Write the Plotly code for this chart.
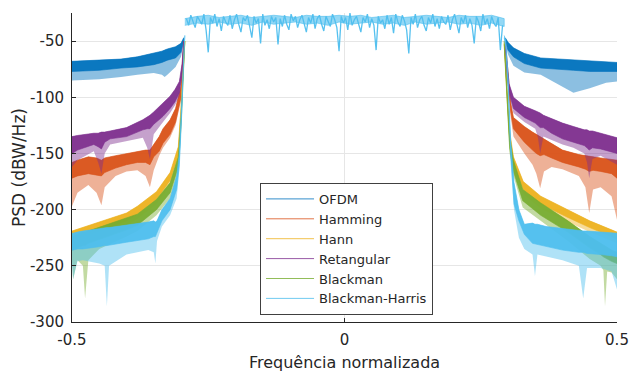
import numpy as np
import plotly.graph_objects as go

# ---------------- data ----------------
names = ["OFDM", "Hamming", "Hann", "Retangular", "Blackman", "Blackman-Harris"]
colors = ["#0072BD", "#D95319", "#EDB120", "#7E2F8E", "#77AC30", "#4DBEEE"]

# OFDM (no window)
ofdm_xl = [-0.5, -0.45, -0.41, -0.38, -0.35, -0.335, -0.33, -0.325, -0.31, -0.30, -0.295]
ofdm_tl = [-68, -67, -66, -64, -61, -59, -58, -57, -55, -52, -47]
ofdm_cl = [-77, -76, -74, -73, -71, -69, -68, -67, -65, -60, -50]
ofdm_ll = [-85, -84, -82, -80, -78.5, -80, -82, -80, -73, -64, -52]
ofdm_xr = [0.295, 0.30, 0.31, 0.33, 0.36, 0.39, 0.42, 0.45, 0.48, 0.5]
ofdm_tr = [-47, -51, -56, -61, -65, -66, -67, -68, -68.5, -69]
ofdm_cr = [-50, -58, -64, -70, -74, -75, -76, -77, -77, -77]
ofdm_lr = [-52, -62, -72, -78, -80, -88, -96, -92, -87, -86]

# Hamming
ham_xl = [-0.5, -0.49, -0.47, -0.455, -0.446, -0.44, -0.42, -0.40, -0.38, -0.365, -0.357, -0.35, -0.34, -0.333, -0.32, -0.31, -0.30, -0.295]
ham_tl = [-158, -156, -153, -154, -156, -154, -152, -150, -148, -147, -147, -142, -135, -128, -120, -110, -90, -50]
ham_cl = [-172, -170, -168, -169, -170, -167, -163, -160, -158, -158, -160, -153, -148, -141, -133, -122, -100, -55]
ham_ll = [-197, -185, -178, -185, -196, -180, -170, -166, -165, -170, -180, -165, -152, -145, -136, -125, -103, -57]
ham_xr = [0.295, 0.30, 0.305, 0.31, 0.33, 0.345, 0.352, 0.359, 0.366, 0.38, 0.40, 0.43, 0.442, 0.449, 0.456, 0.47, 0.49, 0.5]
ham_tr = [-50, -80, -105, -118, -126, -131, -133, -135, -137, -141, -147, -151, -152, -153, -153, -154, -155, -156]
ham_cr = [-55, -88, -113, -128, -140, -147, -150, -152, -151, -154, -158, -162, -164, -166, -165, -166, -168, -172]
ham_lr = [-57, -92, -118, -135, -150, -160, -168, -181, -166, -162, -164, -170, -180, -203, -182, -180, -188, -209]

# Hann
hann_xl = [-0.5, -0.45, -0.40, -0.38, -0.345, -0.32, -0.305, -0.30, -0.296, -0.293]
hann_tl = [-219, -211, -203, -197, -184, -167, -144, -110, -75, -50]
hann_cl = [-227, -219, -210, -204, -191, -174, -152, -118, -80, -52]
hann_ll = [-231, -223, -214, -208, -195, -178, -156, -122, -83, -54]
hann_xr = [0.293, 0.298, 0.303, 0.31, 0.328, 0.36, 0.41, 0.45, 0.5]
hann_tr = [-50, -90, -130, -153, -175, -188, -200, -210, -220]
hann_cr = [-52, -97, -138, -160, -182, -195, -207, -216, -226]
hann_lr = [-54, -100, -142, -164, -186, -199, -211, -220, -230]

# Retangular
ret_xl = [-0.5, -0.49, -0.46, -0.452, -0.446, -0.44, -0.43, -0.40, -0.37, -0.362, -0.357, -0.35, -0.333, -0.32, -0.311, -0.303, -0.298, -0.295]
ret_tl = [-135, -134, -132, -132, -131, -131, -130, -127, -120, -118, -116, -113, -105, -99, -93, -86, -70, -50]
ret_cl = [-150, -147, -142, -144, -146, -140, -137, -135, -129, -128, -128, -124, -117, -110, -104, -96, -78, -53]
ret_ll = [-162, -156, -148, -158, -168, -150, -142, -139, -136, -145, -155, -133, -122, -114, -107, -99, -80, -55]
ret_xr = [0.295, 0.298, 0.302, 0.31, 0.33, 0.35, 0.355, 0.359, 0.365, 0.38, 0.40, 0.42, 0.44, 0.445, 0.449, 0.455, 0.47, 0.5]
ret_tr = [-50, -70, -88, -100, -108, -112, -113, -114, -116, -119, -123, -126, -129, -129, -130, -130, -132, -136]
ret_cr = [-53, -78, -95, -110, -118, -123, -125, -127, -127, -132, -137, -140, -143, -145, -147, -145, -146, -150]
ret_lr = [-55, -80, -98, -114, -122, -128, -136, -150, -135, -138, -142, -145, -150, -158, -172, -155, -152, -160]

# Blackman
bla_xl = [-0.5, -0.498, -0.49, -0.48, -0.476, -0.47, -0.45, -0.40, -0.38, -0.345, -0.32, -0.305, -0.30, -0.296, -0.293]
bla_tl = [-224, -224, -222, -220, -220, -219, -216, -208, -204, -191, -176, -153, -118, -80, -50]
bla_cl = [-236, -236, -234, -232, -232, -230, -227, -218, -214, -200, -185, -162, -126, -85, -53]
bla_ll = [-246, -262, -245, -250, -279, -245, -235, -224, -219, -205, -190, -166, -130, -88, -55]
bla_xr = [0.293, 0.298, 0.303, 0.31, 0.327, 0.36, 0.41, 0.45, 0.47, 0.475, 0.478, 0.482, 0.49, 0.5]
bla_tr = [-50, -95, -135, -156, -182, -194, -210, -224, -230, -232, -233, -234, -236, -238]
bla_cr = [-53, -102, -145, -166, -192, -205, -220, -234, -240, -242, -243, -244, -246, -248]
bla_lr = [-55, -105, -150, -170, -198, -210, -228, -244, -250, -254, -286, -255, -256, -262]

# Blackman-Harris
bh_xl = [-0.5, -0.498, -0.49, -0.48, -0.45, -0.44, -0.436, -0.432, -0.40, -0.36, -0.35, -0.347, -0.344, -0.335, -0.32, -0.308, -0.303, -0.298, -0.295, -0.293]
bh_tl = [-221, -221, -220, -219, -217, -216, -216, -216, -214, -211, -210, -211, -210, -200, -190, -170, -150, -100, -60, -45]
bh_cl = [-236, -236, -235, -235, -233, -232, -232, -232, -229, -226, -224, -224, -220, -210, -200, -182, -160, -108, -65, -47]
bh_ll = [-250, -262, -246, -245, -248, -250, -286, -250, -240, -236, -238, -248, -228, -215, -205, -190, -165, -112, -68, -48]
bh_xr = [0.293, 0.296, 0.30, 0.305, 0.311, 0.32, 0.33, 0.345, 0.3495, 0.354, 0.37, 0.40, 0.43, 0.438, 0.445, 0.47, 0.49, 0.5]
bh_tr = [-45, -50, -80, -140, -176, -200, -213, -212, -213, -213, -215, -217, -219, -219, -219, -220, -221, -221]
bh_cr = [-47, -55, -90, -150, -195, -210, -222, -230, -231, -231, -233, -236, -238, -238, -239, -240, -241, -242]
bh_lr = [-48, -58, -95, -160, -200, -225, -235, -240, -259, -240, -242, -245, -250, -279, -252, -252, -255, -271]

# in-band PSD dense core (common to all windows, Blackman-Harris drawn on top)
band_x = [-0.293, -0.27, -0.25, -0.23, -0.21, -0.19, -0.17, -0.15, -0.13, -0.11, -0.09, -0.07, -0.05, -0.03, -0.01,
          0.01, 0.03, 0.05, 0.07, 0.09, 0.11, 0.13, 0.15, 0.17, 0.19, 0.21, 0.23, 0.25, 0.27, 0.293]
band_top = [-30, -28, -27, -29, -28, -27, -29, -28, -27, -28, -29, -27, -28, -28, -27,
            -28, -27, -29, -28, -27, -29, -28, -27, -28, -29, -27, -28, -28, -27, -30]
band_bot = [-36, -34, -35, -33, -35, -34, -36, -33, -35, -34, -33, -35, -34, -36, -33,
            -35, -34, -33, -35, -34, -36, -33, -35, -34, -33, -35, -34, -36, -34, -37]

# in-band fine structure
pass_f0, pass_f1 = -0.29, 0.29
pass_psd = [
    -30, -36, -27, -33, -38, -28, -31, -35, -26, -40,
    -60, -29, -34, -26, -37, -30, -41, -28, -33, -36,
    -27, -39, -31, -26, -35, -42, -29, -32, -27, -38,
    -47, -28, -34, -30, -52, -26, -36, -31, -39, -28,
    -33, -29, -53, -30, -37, -27, -35, -40, -26, -32,
    -28, -38, -31, -27, -36, -42, -29, -34, -26, -39,
    -30, -27, -35, -41, -28, -33, -37, -26, -31, -38,
    -59, -28, -34, -29, -40, -25, -36, -31, -28, -35,
    -42, -29, -33, -26, -38, -30, -36, -58, -28, -34,
    -31, -39, -27, -35, -29, -43, -26, -33, -37, -27,
    -32, -40, -61, -29, -35, -26, -38, -31, -28, -36,
    -41, -29, -34, -26, -37, -30, -39, -28, -33, -35,
    -27, -40, -31, -26, -36, -43, -29, -34, -27, -38,
    -30, -36, -52, -28, -33, -41, -26, -35, -30, -39,
    -28, -34, -37, -29, -58, -36,
]

x_ticks = [-0.5, 0, 0.5]
x_ticklabels = ["-0.5", "0", "0.5"]
y_ticks = [-300, -250, -200, -150, -100, -50]
y_ticklabels = ["-300", "-250", "-200", "-150", "-100", "-50"]

# ---------------- figure ----------------
FONT = "DejaVu Sans, Liberation Sans, Arial, sans-serif"

def rgba(hexc, a):
    h = hexc.lstrip("#")
    return "rgba(%d,%d,%d,%.2f)" % (int(h[0:2], 16), int(h[2:4], 16), int(h[4:6], 16), a)

fig = go.Figure()

def add_band(x, top, core, low, color, la=0.45, ca=0.92):
    x = list(x)
    if low is not None:
        fig.add_trace(go.Scatter(x=x + x[::-1], y=list(top) + list(low)[::-1],
                                 mode="lines", fill="toself", fillcolor=rgba(color, la),
                                 line=dict(width=0, color=color), showlegend=False, hoverinfo="skip"))
    fig.add_trace(go.Scatter(x=x + x[::-1], y=list(top) + list(core)[::-1],
                             mode="lines", fill="toself", fillcolor=rgba(color, ca),
                             line=dict(width=0.6, color=color), showlegend=False, hoverinfo="skip"))

series = [
    (ofdm_xl, ofdm_tl, ofdm_cl, ofdm_ll, ofdm_xr, ofdm_tr, ofdm_cr, ofdm_lr),
    (ham_xl, ham_tl, ham_cl, ham_ll, ham_xr, ham_tr, ham_cr, ham_lr),
    (hann_xl, hann_tl, hann_cl, hann_ll, hann_xr, hann_tr, hann_cr, hann_lr),
    (ret_xl, ret_tl, ret_cl, ret_ll, ret_xr, ret_tr, ret_cr, ret_lr),
    (bla_xl, bla_tl, bla_cl, bla_ll, bla_xr, bla_tr, bla_cr, bla_lr),
    (bh_xl, bh_tl, bh_cl, bh_ll, bh_xr, bh_tr, bh_cr, bh_lr),
]

for (xl, tl, cl, ll, xr, tr, cr, lr), col in zip(series, colors):
    add_band(xl, tl, cl, ll, col)
    add_band(xr, tr, cr, lr, col)

# in-band: dense core + fine structure
add_band(band_x, band_top, band_bot, None, colors[5], ca=0.6)
pass_x = np.linspace(pass_f0, pass_f1, len(pass_psd))
fig.add_trace(go.Scatter(x=pass_x, y=pass_psd, mode="lines",
                         line=dict(color=rgba(colors[5], 0.95), width=1.3), showlegend=False, hoverinfo="skip"))

# legend entries
for n, c in zip(names, colors):
    fig.add_trace(go.Scatter(x=[None], y=[None], mode="lines", name=n,
                             line=dict(color=rgba(c, 0.8), width=1)))

axis_common = dict(showline=True, linecolor="#262626", linewidth=1, ticks="inside", ticklen=4,
                   tickcolor="#262626", showgrid=True, gridcolor="#e6e6e6", gridwidth=1,
                   zeroline=False, mirror=False, automargin=False,
                   tickfont=dict(family=FONT, size=15, color="#262626"))

fig.update_xaxes(range=[-0.5, 0.5], tickvals=x_ticks, ticktext=x_ticklabels,
                 title=dict(text="Frequência normalizada", standoff=8,
                            font=dict(family=FONT, size=16, color="#262626")),
                 ticklabelstandoff=4, **axis_common)
fig.update_yaxes(range=[-300, -25], tickvals=y_ticks, ticktext=y_ticklabels,
                 title=dict(text="PSD (dBW/Hz)", standoff=0,
                            font=dict(family=FONT, size=17, color="#262626")),
                 ticklabelstandoff=4, **axis_common)

fig.update_layout(
    width=630, height=372,
    margin=dict(l=72, r=13, t=13, b=50),
    paper_bgcolor="white", plot_bgcolor="white",
    showlegend=True,
    legend=dict(x=0.345, y=0.45, xanchor="left", yanchor="top",
                bgcolor="white", bordercolor="#404040", borderwidth=1,
                font=dict(family=FONT, size=13, color="#262626"),
                itemwidth=48, tracegroupgap=0),
)

fig.write_html("out.html", config={"displayModeBar": False},
               post_script="document.body.style.margin='0';document.body.style.overflow='hidden';")
